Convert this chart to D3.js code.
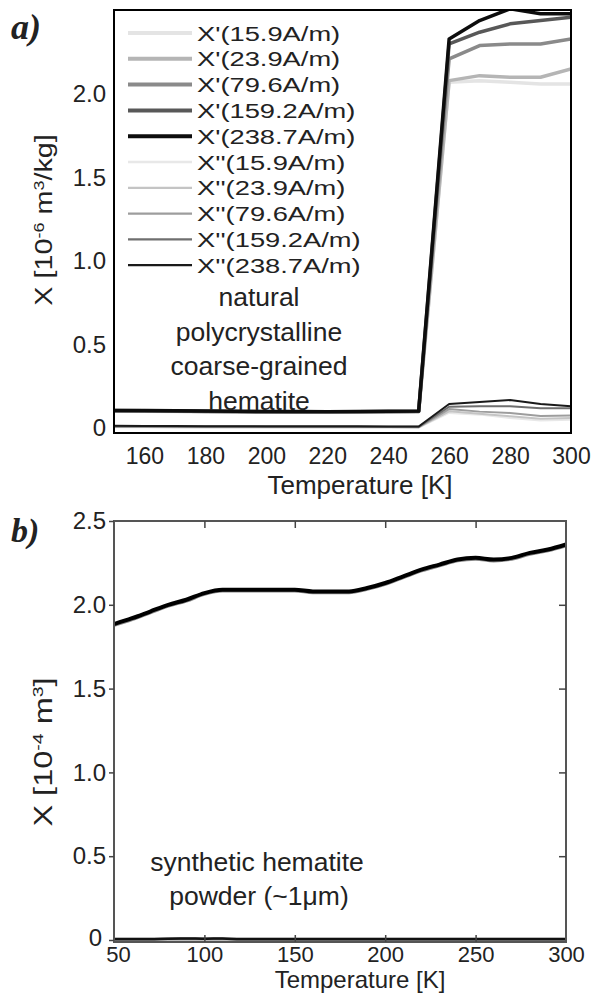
<!DOCTYPE html>
<html>
<head>
<meta charset="utf-8">
<script src="https://cdn.jsdelivr.net/npm/d3@7"></script>
<style>
  body { margin: 0; background: #fff; }
  svg text { font-family: "Liberation Sans", Arial, sans-serif; fill: #222; }
</style>
</head>
<body>
<div id="chart"></div>
<script>
// ---- panel a data (natural hematite) ----
const tempsA = [150, 160, 170, 180, 190, 200, 210, 220, 230, 240, 250, 260, 270, 280, 290, 300];
const xp15  = [0.100, 0.100, 0.099, 0.097, 0.096, 0.094, 0.094, 0.094, 0.095, 0.096, 0.097, 2.07, 2.08, 2.07, 2.06, 2.06];
const xp23  = [0.102, 0.101, 0.100, 0.098, 0.097, 0.095, 0.095, 0.095, 0.096, 0.097, 0.098, 2.08, 2.11, 2.10, 2.10, 2.15];
const xp79  = [0.103, 0.102, 0.101, 0.099, 0.098, 0.097, 0.097, 0.096, 0.097, 0.098, 0.099, 2.21, 2.29, 2.30, 2.30, 2.33];
const xp159 = [0.104, 0.103, 0.102, 0.100, 0.099, 0.098, 0.098, 0.097, 0.098, 0.099, 0.100, 2.30, 2.37, 2.42, 2.44, 2.46];
const xp238 = [0.105, 0.104, 0.103, 0.101, 0.100, 0.099, 0.099, 0.098, 0.099, 0.100, 0.101, 2.33, 2.44, 2.51, 2.48, 2.48];
const xpp15  = [0.004, 0.004, 0.004, 0.003, 0.003, 0.003, 0.003, 0.003, 0.003, 0.003, 0.003, 0.090, 0.080, 0.060, 0.045, 0.050];
const xpp23  = [0.006, 0.006, 0.005, 0.005, 0.005, 0.005, 0.005, 0.004, 0.004, 0.004, 0.004, 0.100, 0.085, 0.070, 0.055, 0.060];
const xpp79  = [0.008, 0.008, 0.007, 0.007, 0.007, 0.006, 0.006, 0.006, 0.006, 0.006, 0.005, 0.113, 0.098, 0.090, 0.072, 0.075];
const xpp159 = [0.010, 0.010, 0.009, 0.009, 0.009, 0.008, 0.008, 0.008, 0.008, 0.007, 0.007, 0.127, 0.130, 0.130, 0.118, 0.118];
const xpp238 = [0.013, 0.012, 0.012, 0.011, 0.011, 0.010, 0.010, 0.010, 0.010, 0.009, 0.009, 0.144, 0.155, 0.167, 0.144, 0.130];

const seriesNamesA = ["X'(15.9A/m)", "X'(23.9A/m)", "X'(79.6A/m)", "X'(159.2A/m)", "X'(238.7A/m)",
                      "X''(15.9A/m)", "X''(23.9A/m)", "X''(79.6A/m)", "X''(159.2A/m)", "X''(238.7A/m)"];
const seriesA = [xp15, xp23, xp79, xp159, xp238, xpp15, xpp23, xpp79, xpp159, xpp238];
const ticksXA = [160, 180, 200, 220, 240, 260, 280, 300];
const ticksYA = [0, 0.5, 1.0, 1.5, 2.0];

// ---- panel b data (synthetic hematite powder) ----
const tempsB = [50, 60, 70, 80, 90, 100, 110, 120, 130, 140, 150, 160, 170, 180, 190, 200, 210, 220, 230, 240, 250, 260, 270, 280, 290, 300];
const bxpBlack = [1.885, 1.92, 1.96, 2.00, 2.03, 2.07, 2.09, 2.09, 2.09, 2.09, 2.09, 2.08, 2.08, 2.08, 2.10, 2.13, 2.17, 2.21, 2.24, 2.27, 2.28, 2.27, 2.28, 2.31, 2.33, 2.36];
const bxpGray  = [1.880, 1.915, 1.955, 1.995, 2.025, 2.065, 2.085, 2.085, 2.085, 2.085, 2.085, 2.075, 2.075, 2.075, 2.095, 2.125, 2.165, 2.205, 2.235, 2.265, 2.275, 2.265, 2.275, 2.305, 2.325, 2.355];
const bxppGray  = [0.006, 0.006, 0.006, 0.006, 0.006, 0.006, 0.006, 0.006, 0.006, 0.006, 0.006, 0.006, 0.006, 0.006, 0.006, 0.006, 0.006, 0.006, 0.006, 0.006, 0.006, 0.006, 0.006, 0.006, 0.006, 0.006];
const bxppBlack = [0.004, 0.004, 0.004, 0.008, 0.009, 0.008, 0.009, 0.004, 0.004, 0.004, 0.004, 0.004, 0.004, 0.004, 0.004, 0.004, 0.004, 0.004, 0.004, 0.004, 0.004, 0.004, 0.004, 0.004, 0.004, 0.004];
const ticksXB = [50, 100, 150, 200, 250, 300];
const ticksYB = [0, 0.5, 1.0, 1.5, 2.0, 2.5];

const colorsA = ["#e4e4e4", "#b5b5b5", "#8a8a8a", "#585858", "#0d0d0d",
                 "#e8e8e8", "#c4c4c4", "#9d9d9d", "#6f6f6f", "#1a1a1a"];

const svg = d3.select("#chart").append("svg")
  .attr("width", 600).attr("height", 996);

const fmt = d => d === 0 ? "0" : d3.format(".1f")(d);
const sans = "Liberation Sans, Arial, sans-serif";

// ================= panel a =================
const xA = d3.scaleLinear().domain([150, 300]).range([114, 571]);
const yA = d3.scaleLinear().domain([-0.03, 2.503]).range([433, 10]);

svg.append("clipPath").attr("id", "clipA").append("rect")
  .attr("x", 114).attr("y", 10).attr("width", 457).attr("height", 423);

const lineA = d3.line().x((d, i) => xA(tempsA[i])).y(d => yA(d));
const gA = svg.append("g").attr("clip-path", "url(#clipA)");
// X'' first, then X', lightest to darkest
const orderA = [5, 6, 7, 8, 9, 0, 1, 2, 3, 4];
orderA.forEach(k => {
  gA.append("path").datum(seriesA[k])
    .attr("fill", "none")
    .attr("stroke", colorsA[k])
    .attr("stroke-width", k < 5 ? 3.5 : 2)
    .attr("stroke-linejoin", "round")
    .attr("d", lineA);
});

svg.append("rect").attr("x", 114).attr("y", 10).attr("width", 457).attr("height", 423)
  .attr("fill", "none").attr("stroke", "#000").attr("stroke-width", 2);

const axA = svg.append("g").attr("transform", "translate(0,433)")
  .call(d3.axisBottom(xA).tickValues(ticksXA).tickSize(0).tickPadding(15));
axA.select(".domain").remove();
axA.selectAll("text").attr("font-size", 23).attr("font-family", sans).attr("fill", "#222");

const ayA = svg.append("g").attr("transform", "translate(114,0)")
  .call(d3.axisLeft(yA).tickValues(ticksYA).tickFormat(fmt).tickSize(0).tickPadding(8));
ayA.select(".domain").remove();
ayA.selectAll("text").attr("font-size", 24).attr("font-family", sans).attr("fill", "#222");

svg.append("text").attr("x", 360).attr("y", 494).attr("text-anchor", "middle")
  .attr("font-size", 26).text("Temperature [K]");

const labA = svg.append("text").attr("transform", "translate(52,220) rotate(-90) scale(1.2,1)")
  .attr("text-anchor", "middle").attr("font-size", 24);
labA.append("tspan").text("X [10");
labA.append("tspan").attr("baseline-shift", "super").attr("font-size", 15).text("-6");
labA.append("tspan").text(" m");
labA.append("tspan").attr("baseline-shift", "super").attr("font-size", 15).text("3");
labA.append("tspan").text("/kg]");

// legend
const legA = svg.append("g");
seriesNamesA.forEach((name, k) => {
  const yy = 33 + k * 25.8;
  legA.append("line").attr("x1", 128).attr("x2", 192).attr("y1", yy).attr("y2", yy)
    .attr("stroke", colorsA[k]).attr("stroke-width", k < 5 ? 4 : 2.3);
  legA.append("text").attr("transform", `translate(197,${yy + 7.5}) scale(1.3,1)`)
    .attr("font-size", 21).text(name);
});

["natural", "polycrystalline", "coarse-grained", "hematite"].forEach((t, i) => {
  svg.append("text").attr("x", 259).attr("y", 306 + i * 34.5).attr("text-anchor", "middle")
    .attr("font-size", 26.5).text(t);
});

svg.append("text").attr("x", 11).attr("y", 39)
  .style("font-family", "'Liberation Serif', 'Times New Roman', serif")
  .attr("font-weight", "bold").attr("font-style", "italic").attr("font-size", 36).text("a)");

// ================= panel b =================
const xB = d3.scaleLinear().domain([50, 300]).range([114, 566]);
const yB = d3.scaleLinear().domain([-0.012, 2.5]).range([942, 521]);

const lineB = d3.line().curve(d3.curveMonotoneX).x((d, i) => xB(tempsB[i])).y(d => yB(d));
const gB = svg.append("g");
[[bxppGray, "#777", 3], [bxppBlack, "#111", 2.5], [bxpGray, "#888", 4], [bxpBlack, "#000", 4]].forEach(([vals, c, w]) => {
  gB.append("path").datum(vals)
    .attr("fill", "none").attr("stroke", c).attr("stroke-width", w)
    .attr("stroke-linejoin", "round").attr("d", lineB);
});

svg.append("rect").attr("x", 114).attr("y", 521).attr("width", 452).attr("height", 421)
  .attr("fill", "none").attr("stroke", "#555").attr("stroke-width", 2);

const inner = ticksXB.slice(1, -1);
const innerY = ticksYB.slice(1, -1);
// inward ticks on top, bottom, right; outward on left
svg.append("g").attr("transform", "translate(0,521)")
  .call(d3.axisBottom(xB).tickValues(inner).tickSize(7).tickFormat(""))
  .call(g => g.select(".domain").remove())
  .selectAll("line").attr("stroke", "#444").attr("stroke-width", 1.5);
svg.append("g").attr("transform", "translate(0,942)")
  .call(d3.axisTop(xB).tickValues(inner).tickSize(7).tickFormat(""))
  .call(g => g.select(".domain").remove())
  .selectAll("line").attr("stroke", "#444").attr("stroke-width", 1.5);
svg.append("g").attr("transform", "translate(566,0)")
  .call(d3.axisLeft(yB).tickValues(innerY).tickSize(7).tickFormat(""))
  .call(g => g.select(".domain").remove())
  .selectAll("line").attr("stroke", "#444").attr("stroke-width", 1.5);

const axB = svg.append("g").attr("transform", "translate(0,942)")
  .call(d3.axisBottom(xB).tickValues(ticksXB).tickSize(0).tickPadding(4));
axB.select(".domain").remove();
axB.selectAll("text").attr("font-size", 22).attr("font-family", sans).attr("fill", "#222")
  .attr("dx", d => d === 50 ? 4 : 0);

const ayB = svg.append("g").attr("transform", "translate(114,0)")
  .call(d3.axisLeft(yB).tickValues(ticksYB).tickFormat(fmt).tickSize(5).tickPadding(3));
ayB.select(".domain").remove();
ayB.selectAll("line").attr("stroke", "#444").attr("stroke-width", 1.5);
ayB.selectAll("text").attr("font-size", 24).attr("font-family", sans).attr("fill", "#222")
  .attr("dy", d => d === 0 ? "0.22em" : "0.32em")
  .attr("dx", d => d === 0 ? -4 : 0);

svg.append("text").attr("x", 360).attr("y", 988).attr("text-anchor", "middle")
  .attr("font-size", 24).text("Temperature [K]");

const labB = svg.append("text").attr("transform", "translate(52,752) rotate(-90) scale(1.3,1)")
  .attr("text-anchor", "middle").attr("font-size", 25);
labB.append("tspan").text("X [10");
labB.append("tspan").attr("baseline-shift", "super").attr("font-size", 15).text("-4");
labB.append("tspan").text(" m");
labB.append("tspan").attr("baseline-shift", "super").attr("font-size", 15).text("3");
labB.append("tspan").text("]");

svg.append("text").attr("x", 257).attr("y", 871).attr("text-anchor", "middle")
  .attr("font-size", 26.5).text("synthetic hematite");
svg.append("text").attr("x", 259).attr("y", 905).attr("text-anchor", "middle")
  .attr("font-size", 26.5).text("powder (~1\u03bcm)");

svg.append("text").attr("x", 11).attr("y", 542)
  .style("font-family", "'Liberation Serif', 'Times New Roman', serif")
  .attr("font-weight", "bold").attr("font-style", "italic").attr("font-size", 34).text("b)");
</script>
</body>
</html>
